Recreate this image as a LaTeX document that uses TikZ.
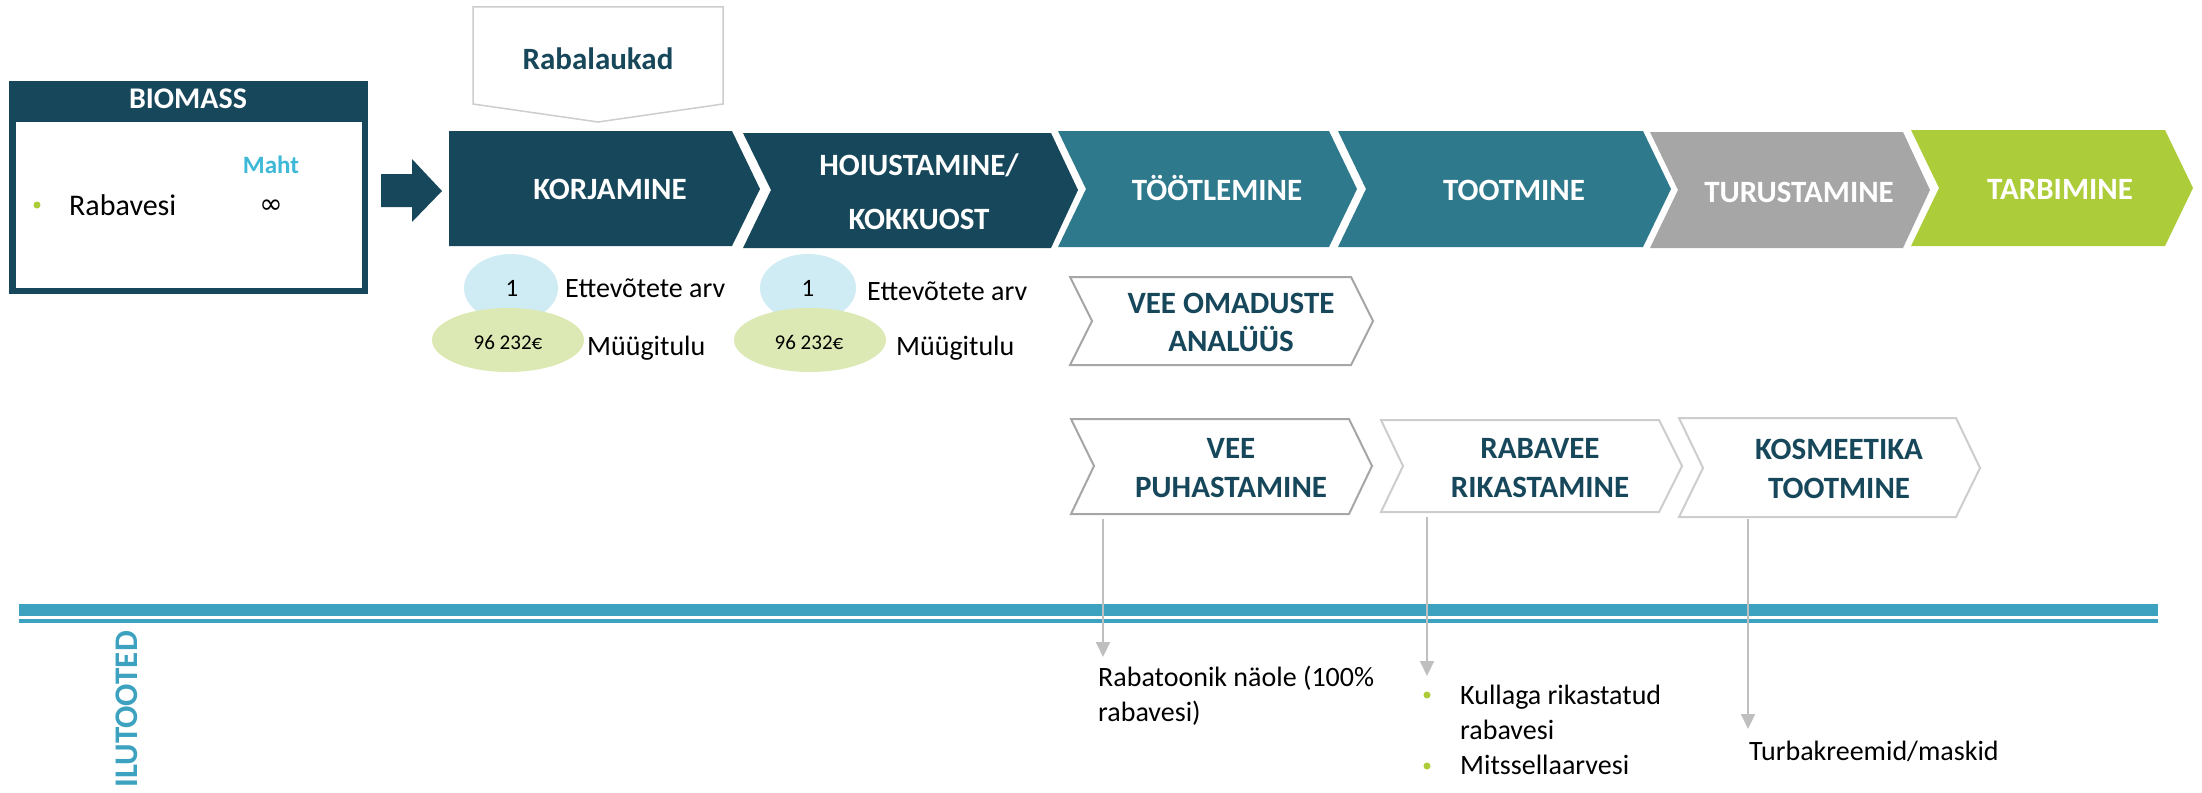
\documentclass[tikz,border=0pt]{standalone}
\usepackage{fontspec}
\setmainfont{Carlito}
\newfontfamily\symf{DejaVu Sans}
\usetikzlibrary{arrows.meta}
\definecolor{dk}{HTML}{17475A}
\definecolor{tl}{HTML}{2E798C}
\definecolor{gr}{HTML}{A6A6A6}
\definecolor{lg}{HTML}{ACCC3A}
\definecolor{ln}{HTML}{3CA2BF}
\definecolor{cy}{HTML}{3DB9D7}
\definecolor{lb}{HTML}{CFEBF4}
\definecolor{lgr}{HTML}{DDE9B4}
\definecolor{ol}{HTML}{A6A6A6}
\definecolor{ol2}{HTML}{CDCDCD}
\definecolor{ar}{HTML}{BFBFBF}
\begin{document}
\begin{tikzpicture}[x=1pt,y=-1pt,
  hd/.style={inner sep=0pt, text=white, font=\fontsize{31}{37}\selectfont\bfseries},
  sub/.style={inner sep=0pt, text=dk, font=\fontsize{31}{37}\selectfont\bfseries},
  body/.style={inner sep=0pt, text=black, font=\fontsize{28}{34}\selectfont},
  outl/.style={draw=ol, line width=2pt, fill=white, line join=miter},
  outl2/.style={draw=ol2, line width=2pt, fill=white, line join=miter},
  gar/.style={draw=ar, line width=2pt, -{Triangle[width=14pt,length=15pt]}},
  bul/.style={fill=lg, draw=none},
]
\useasboundingbox (0,0) rectangle (2202,792);

% BIOMASS box
\fill[dk] (9,81) rectangle (368,294);
\fill[white] (16,122) rectangle (362,288);
\node[hd, font=\fontsize{30}{36}\selectfont\bfseries, anchor=base] (bio) at (188,108) {BIOMASS};
\node[inner sep=0pt, text=cy, font=\fontsize{25}{30}\selectfont\bfseries, anchor=base] (maht) at (271,173) {Maht};
\fill[bul] (37,205) circle (3.5);
\node[body, font=\fontsize{30}{36}\selectfont, anchor=base west] (rv) at (69,215) {Rabavesi};
\node[inner sep=0pt, font=\fontsize{28}{32}\selectfont\symf] (inf) at (271,207) {∞};

% block arrow
\fill[dk] (381,174) -- (412,174) -- (412,159) -- (442,191) -- (412,222) -- (412,207) -- (381,207) -- cycle;

% Rabalaukad
\draw[draw=ol2, line width=1.5pt, fill=white] (473,7) -- (723,7) -- (723,104) -- (598,122) -- (473,104) -- cycle;
\node[sub, anchor=base] (rl) at (598,70) {Rabalaukad};

% main chevrons
\fill[dk] (449,131) -- (732,131) -- (760,189) -- (732,246) -- (449,246) -- cycle;
\node[hd, anchor=base] (kor) at (610,199) {KORJAMINE};
\fill[dk] (743,133) -- (1051,133) -- (1078,190) -- (1051,248) -- (743,248) -- (771,190) -- cycle;
\node[hd, anchor=base] (hoi) at (919,175) {HOIUSTAMINE/};
\node[hd, anchor=base] (hoi2) at (919,229) {KOKKUOST};
\fill[tl] (1058,131) -- (1329,131) -- (1357,189) -- (1329,247) -- (1058,247) -- (1086,189) -- cycle;
\node[hd, anchor=base] (tot) at (1217,200) {TÖÖTLEMINE};
\fill[tl] (1338,131) -- (1643,131) -- (1671,189) -- (1643,247) -- (1338,247) -- (1366,189) -- cycle;
\node[hd, anchor=base] (too) at (1514,200) {TOOTMINE};
\fill[gr] (1650,132) -- (1903,132) -- (1930,190) -- (1903,248) -- (1650,248) -- (1678,190) -- cycle;
\node[hd, anchor=base] (tur) at (1799,202) {TURUSTAMINE};
\fill[lg] (1911,130) -- (2165,130) -- (2193,188) -- (2165,246) -- (1911,246) -- (1939,188) -- cycle;
\node[hd, anchor=base] (tar) at (2060,199) {TARBIMINE};

% ellipses group 1
\fill[lb] (511,288) ellipse [x radius=47, y radius=34];
\fill[lgr] (508,340) ellipse [x radius=76, y radius=32];
\node[body, font=\fontsize{25}{30}\selectfont, anchor=base] (n1) at (512,296) {1};
\node[body, anchor=base west] (et1) at (565,297) {Ettevõtete arv};
\node[body, font=\fontsize{21}{25}\selectfont, anchor=base] (m1) at (508,349) {96 232€};
\node[body, anchor=base west] (mu1) at (587,355) {Müügitulu};
% ellipses group 2
\fill[lb] (808,288) ellipse [x radius=48, y radius=34];
\fill[lgr] (810,340) ellipse [x radius=76, y radius=32];
\node[body, font=\fontsize{25}{30}\selectfont, anchor=base] (n2) at (808,296) {1};
\node[body, anchor=base west] (et2) at (867,300) {Ettevõtete arv};
\node[body, font=\fontsize{21}{25}\selectfont, anchor=base] (m2) at (809,349) {96 232€};
\node[body, anchor=base west] (mu2) at (896,355) {Müügitulu};

% outline chevrons
\draw[outl] (1070,277) -- (1351,277) -- (1373,321) -- (1351,365) -- (1070,365) -- (1092,321) -- cycle;
\node[sub, anchor=base] (vo) at (1231,313) {VEE OMADUSTE};
\node[sub, anchor=base] (vo2) at (1231,351) {ANALÜÜS};
\draw[outl] (1071,419) -- (1349,419) -- (1372,466) -- (1349,514) -- (1071,514) -- (1094,466) -- cycle;
\node[sub, anchor=base] (vp) at (1231,458) {VEE};
\node[sub, anchor=base] (vp2) at (1231,497) {PUHASTAMINE};
\draw[outl2] (1381,420) -- (1659,420) -- (1682,466) -- (1659,512) -- (1381,512) -- (1403,466) -- cycle;
\node[sub, anchor=base] (rr) at (1540,458) {RABAVEE};
\node[sub, anchor=base] (rr2) at (1540,497) {RIKASTAMINE};
\draw[outl2] (1679,418) -- (1956,418) -- (1980,468) -- (1956,517) -- (1679,517) -- (1703,468) -- cycle;
\node[sub, anchor=base] (ko) at (1839,459) {KOSMEETIKA};
\node[sub, anchor=base] (ko2) at (1839,498) {TOOTMINE};

% blue divider lines
\fill[ln] (19,604) rectangle (2158,616);
\fill[ln] (19,619) rectangle (2158,623);
\node[inner sep=0pt, text=ln, font=\fontsize{33}{40}\selectfont\bfseries, rotate=90, anchor=east] (ilu) at (127,631) {ILUTOOTED};

% product texts
\node[body, anchor=base west] (rt) at (1098,686) {Rabatoonik näole (100\%};
\node[body, anchor=base west] (rt2) at (1098,721) {rabavesi)};
\fill[bul] (1427,695) circle (3.5);
\fill[bul] (1427,766) circle (3.5);
\node[body, anchor=base west] (k1) at (1460,704) {Kullaga rikastatud};
\node[body, anchor=base west] (k2) at (1460,739) {rabavesi};
\node[body, anchor=base west] (k3) at (1460,774) {Mitssellaarvesi};
\node[body, anchor=base west] (tb) at (1749,760) {Turbakreemid/maskid};

% arrows
\coordinate (a1s) at (1103,519); \coordinate (a1e) at (1103,657);
\coordinate (a2s) at (1427,517); \coordinate (a2e) at (1427,676);
\coordinate (a3s) at (1748,519); \coordinate (a3e) at (1748,729);
\draw[gar] (a1s) -- (a1e);
\draw[gar] (a2s) -- (a2e);
\draw[gar] (a3s) -- (a3e);
\end{tikzpicture}
\end{document}
